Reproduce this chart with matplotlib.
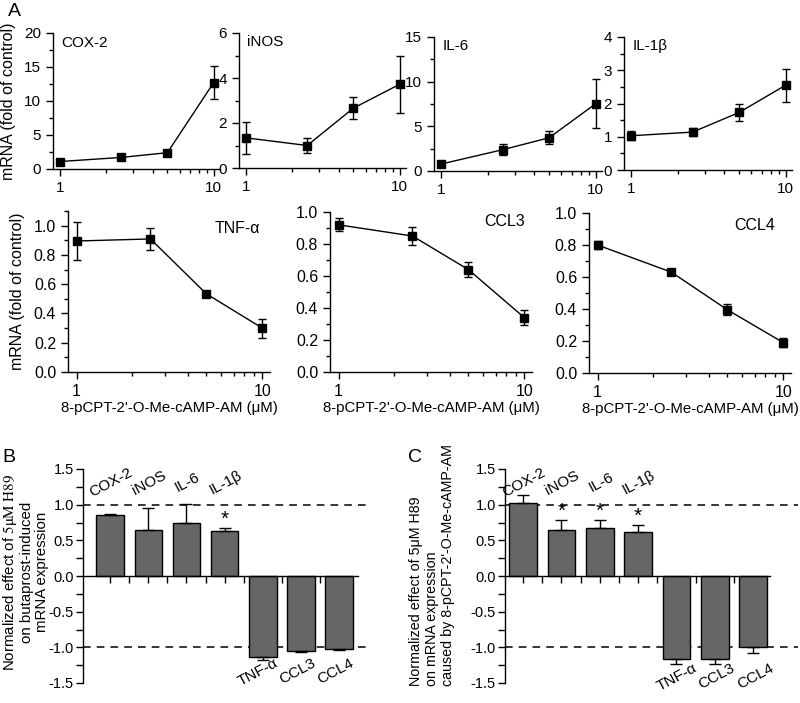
import numpy as np
import matplotlib
matplotlib.use('Agg')
import matplotlib.pyplot as plt
from matplotlib.ticker import FixedLocator, NullFormatter, FixedFormatter, MultipleLocator, FormatStrFormatter

plt.rcParams['font.family'] = ['Liberation Sans', 'DejaVu Sans']
plt.rcParams['mathtext.fontset'] = 'stix'
plt.rcParams['axes.linewidth'] = 1.0

# --- dose-response data (panel A) ---
dose = [1, 2.5, 5, 10]

genes_up = ['COX-2', 'iNOS', 'IL-6', 'IL-1β']
cox2 = [1.1, 1.7, 2.4, 12.7]
cox2_err = [0.2, 0.25, 0.3, 2.4]
inos = [1.34, 1.0, 2.66, 3.72]
inos_err = [0.7, 0.32, 0.48, 1.27]
il6 = [0.78, 2.38, 3.72, 7.52]
il6_err = [0.25, 0.63, 0.72, 2.75]
il1b = [1.03, 1.14, 1.73, 2.55]
il1b_err = [0.13, 0.13, 0.25, 0.5]

genes_down = ['TNF-α', 'CCL3', 'CCL4']
tnfa = [0.895, 0.909, 0.534, 0.30]
tnfa_err = [0.13, 0.075, 0.015, 0.065]
ccl3 = [0.92, 0.85, 0.64, 0.34]
ccl3_err = [0.04, 0.055, 0.045, 0.045]
ccl4 = [0.80, 0.63, 0.395, 0.19]
ccl4_err = [0.025, 0.012, 0.035, 0.03]

# --- H89 bar data (panels B, C) ---
bar_genes = ['COX-2', 'iNOS', 'IL-6', 'IL-1β', 'TNF-α', 'CCL3', 'CCL4']
b_vals = [0.85, 0.64, 0.75, 0.63, -1.13, -1.05, -1.02]
b_err = [0.025, 0.31, 0.26, 0.045, 0.05, 0.02, 0.012]
b_sig = [False, False, False, True, False, False, False]
c_vals = [1.02, 0.64, 0.67, 0.62, -1.17, -1.17, -1.0]
c_err = [0.11, 0.15, 0.12, 0.10, 0.065, 0.06, 0.085]
c_sig = [False, True, True, True, False, False, False]

W, H = 800, 703
fig = plt.figure(figsize=(W / 100, H / 100), dpi=100)


def px_axes(left, top, right, bottom):
    return fig.add_axes([left / W, 1 - bottom / H, (right - left) / W, (bottom - top) / H])


def style_log(ax, fs):
    ax.set_xscale('log')
    ax.set_xlim(0.9, 11)
    ax.xaxis.set_major_locator(FixedLocator([1, 10]))
    ax.xaxis.set_major_formatter(FixedFormatter(['1', '10']))
    ax.xaxis.set_minor_locator(FixedLocator([2, 3, 4, 5, 6, 7, 8, 9]))
    ax.xaxis.set_minor_formatter(NullFormatter())
    for s in ['top', 'right']:
        ax.spines[s].set_visible(False)
    ax.tick_params(which='major', direction='out', length=5, width=1, labelsize=fs)
    ax.tick_params(which='minor', direction='out', length=3, width=1)


def dose_plot(ax, y, err):
    ax.errorbar(dose, y, yerr=err, color='black', marker='s', markersize=6,
                lw=1.0, capsize=3, elinewidth=1.0, capthick=1.0)


# top row
top_data = [(cox2, cox2_err, 20, 5), (inos, inos_err, 6, 2), (il6, il6_err, 15, 5), (il1b, il1b_err, 4, 1)]
top_boxes = [(53, 33, 220, 169), (239, 33, 406, 168), (434, 37, 602, 171), (624, 37, 792, 170)]
for i, (y, err, ymax, step) in enumerate(top_data):
    ax = px_axes(*top_boxes[i])
    dose_plot(ax, y, err)
    style_log(ax, 11)
    ax.set_ylim(0, ymax)
    ax.yaxis.set_major_locator(MultipleLocator(step))
    ax.yaxis.set_minor_locator(MultipleLocator(step / 2))
    ax.text(0.05, 0.93, genes_up[i], transform=ax.transAxes, fontsize=11, va='center', ha='left')
    if i == 0:
        ax.set_ylabel('mRNA (fold of control)', fontsize=11.5, labelpad=6)

# middle row
mid_data = [(tnfa, tnfa_err, 1.1), (ccl3, ccl3_err, 1.0), (ccl4, ccl4_err, 1.0)]
mid_boxes = [(68, 211, 270, 372), (330, 212, 532, 372), (589, 213, 791, 373)]
mid_lab = [(0.95, 0.89), (0.965, 0.94), (0.92, 0.925)]
for i, (y, err, ymax) in enumerate(mid_data):
    ax = px_axes(*mid_boxes[i])
    dose_plot(ax, y, err)
    style_log(ax, 11.5)
    ax.set_ylim(0, ymax)
    ax.yaxis.set_major_locator(MultipleLocator(0.2))
    ax.yaxis.set_minor_locator(MultipleLocator(0.1))
    ax.yaxis.set_major_formatter(FormatStrFormatter('%.1f'))
    ax.text(mid_lab[i][0], mid_lab[i][1], genes_down[i], transform=ax.transAxes,
            fontsize=11.5, va='center', ha='right')
    ax.set_xlabel("8-pCPT-2'-O-Me-cAMP-AM (μM)", fontsize=10.8, labelpad=1.5)
    if i == 0:
        ax.set_ylabel('mRNA (fold of control)', fontsize=11.5, labelpad=6)


def bar_plot(ax, vals, err, sig, xmin, xmax, spine_end, neg_anchor):
    vals = np.array(vals)
    err = np.array(err)
    x = np.arange(len(vals))
    lower = np.where(vals < 0, err, 0)
    upper = np.where(vals > 0, err, 0)
    ax.bar(x, vals, width=0.72, color='#666666', edgecolor='black', linewidth=1.0, zorder=2)
    ax.errorbar(x, vals, yerr=[lower, upper], fmt='none', ecolor='black', elinewidth=1.0,
                capsize=4, capthick=1.0, zorder=3)
    for yy in (1, -1):
        ax.axhline(yy, color='black', ls=(0, (5, 4)), lw=1.1, zorder=1)
    ax.set_xlim(xmin, xmax)
    ax.set_ylim(-1.5, 1.5)
    ax.spines['bottom'].set_position(('data', 0))
    ax.spines['bottom'].set_bounds(xmin, spine_end)
    ax.spines['left'].set_zorder(4)
    for s in ['top', 'right']:
        ax.spines[s].set_visible(False)
    ax.set_axisbelow(True)
    ax.xaxis.set_major_locator(FixedLocator(x))
    ax.xaxis.set_minor_locator(FixedLocator(x[:-1] + 0.5))
    ax.set_xticklabels([])
    ax.yaxis.set_major_locator(MultipleLocator(0.5))
    ax.yaxis.set_minor_locator(MultipleLocator(0.25))
    ax.yaxis.set_major_formatter(FormatStrFormatter('%.1f'))
    ax.tick_params(which='major', direction='out', length=5, width=1, labelsize=10.5, pad=1.5)
    ax.tick_params(which='minor', direction='out', length=5, width=1)
    for i, name in enumerate(bar_genes):
        if vals[i] > 0:
            ax.text(i + 0.08, 1.26, name, rotation=28, rotation_mode='anchor',
                    ha='center', va='baseline', fontsize=11)
        else:
            ax.text(i + neg_anchor[0], neg_anchor[1], name, rotation=28, rotation_mode='anchor',
                    ha='right', va='baseline', fontsize=11, clip_on=False)
        if sig[i]:
            ax.text(i, vals[i] + err[i] + 0.12, '*', ha='center', va='center', fontsize=15)


axB = px_axes(83, 469, 367, 683)
bar_plot(axB, b_vals, b_err, b_sig, -0.71, 6.73, 6.5, (0.42, -1.26))
axC = px_axes(505, 469, 798, 683)
bar_plot(axC, c_vals, c_err, c_sig, -0.47, 7.17, 6.44, (0.55, -1.33))

fig.text(25 / W, 1 - 572 / H,
         'Normalized effect of $\\mathrm{5μM\\ H89}$\non butaprost-induced\nmRNA expression',
         rotation=90, ha='center', va='center', multialignment='center', fontsize=10.8, linespacing=1.12)
fig.text(432 / W, 1 - 686 / H,
         "Normalized effect of 5μM H89\non mRNA expression\ncaused by 8-pCPT-2'-O-Me-cAMP-AM",
         rotation=90, ha='center', va='bottom', multialignment='left', fontsize=10.3, linespacing=1.15)

fig.text(8 / W, 1 - 11 / H, 'A', fontsize=14, va='center', ha='left')
fig.text(2 / W, 1 - 458 / H, 'B', fontsize=14, va='center', ha='left')
fig.text(408 / W, 1 - 457 / H, 'C', fontsize=14, va='center', ha='left')

fig.savefig('out.png', dpi=100)
